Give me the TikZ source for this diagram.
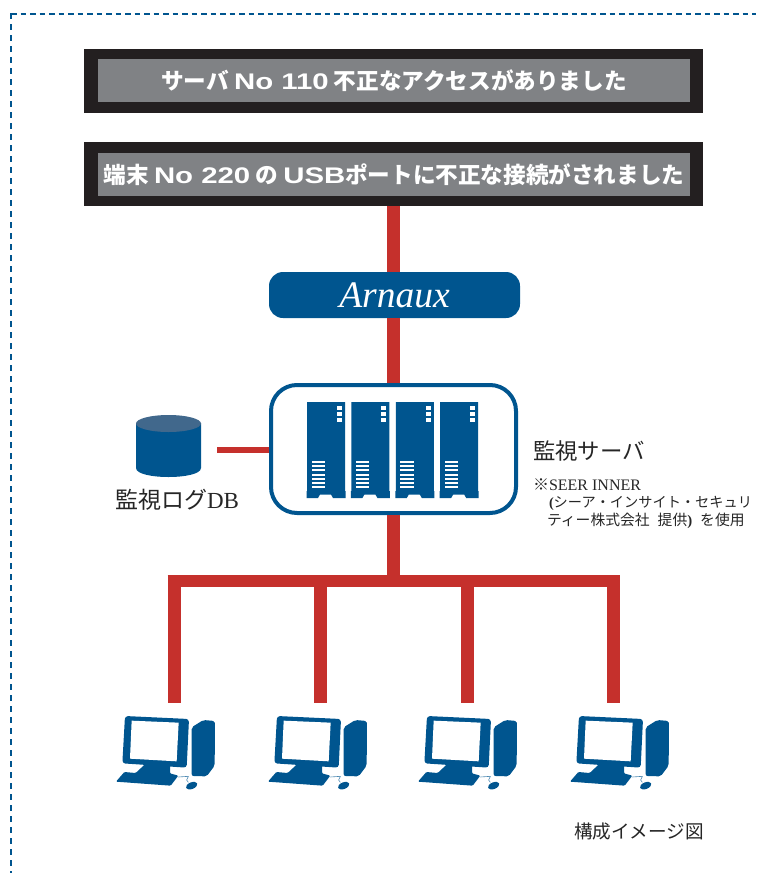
\documentclass[tikz,border=0pt]{standalone}
\usepackage{fontspec}
\setmainfont{Liberation Serif}
\newfontfamily\cjk{Noto Sans CJK JP}
\newfontfamily\lat{Liberation Serif}
\newfontfamily\bansans[FakeStretch=1.3]{Liberation Sans}
\definecolor{navy}{HTML}{00558F}
\definecolor{dbtop}{HTML}{41688C}
\definecolor{wire}{HTML}{C5302C}
\definecolor{banblack}{HTML}{231F20}
\definecolor{bangrey}{HTML}{808285}
\tikzset{
  bannerouter/.style={fill=banblack,draw=none,minimum width=619pt,minimum height=64pt,inner sep=0pt,outer sep=0pt},
  bannerinner/.style={fill=bangrey,draw=none,minimum width=592pt,minimum height=43pt,inner sep=0pt,outer sep=0pt,text=white,font=\fontsize{22.6}{25}\selectfont},
  wirethick/.style={draw=wire,line width=13pt},
  wirethin/.style={draw=wire,line width=5.5pt},
  buswire/.style={draw=wire,line width=12pt},
  lbl/.style={inner sep=0pt,outer sep=0pt,text=black!85},
  pcslot/.style={minimum width=100pt,minimum height=90pt,inner sep=0pt,outer sep=0pt},
  pcicon/.pic={
    \begin{scope}[scale=1/3]
      \fill[navy,rounded corners=3pt] (75,48)--(267,57)--(260,203)--(67,190)--cycle;
      \fill[white] (95,62)--(236,68)--(230,184)--(90,176)--cycle;
      \fill[navy,rounded corners=1pt] (138,190)--(210,190)--(210,220)--(235,227)--(212,257)--(48,245)--(73,216)--(107,219)--cycle;
      \fill[navy,rounded corners=2pt] (275,82)--(310,60)--(345,63)--(344,197)--(320,229)--(275,228)--cycle;
      \fill[navy,rotate around={22:(275,257)}] (275,257) ellipse (18 and 10);
      \draw[navy!70,line width=.6pt] (235,231)--(265,229)--(260,240)--(265,247);
    \end{scope}
  },
  srvicon/.pic={
    \fill[navy] (0,0)--(38,0)--(38,89)--(38.5,89)--(38.5,96)--(26,96)--(24,92.5)--(13,92.5)--(11,96)--(-.5,96)--(-.5,89)--(0,89)--cycle;
    \foreach \q in {4,10,16}{\fill[white] (30,\q) rectangle (35,\q+4);}
    \foreach \q in {0,...,6}{\fill[white] (4.5,59+\q*4.2) rectangle (18,61+\q*4.2);}
  }
}
\newcommand{\bl}[1]{{\bansans\bfseries #1}}
\begin{document}
\begin{tikzpicture}[x=1pt,y=-1pt]
\useasboundingbox (0,0) rectangle (756,873);
\draw[navy,line width=2pt,dash pattern=on 5.5pt off 4pt] (11,14) -- (756,14);
\draw[navy,line width=2pt,dash pattern=on 6pt off 5pt] (11,13) -- (11,873);

% nodes
\node[bannerouter] (ban1) at (393.5,80.5) {};
\node[bannerinner] (ban1in) at (394,80.5) {\raisebox{-1pt}{\cjk\bfseries サーバ \bl{No 110} 不正なアクセスがありました}};
\node[bannerouter] (ban2) at (393.5,174) {};
\node[bannerinner] (ban2in) at (394,174.5) {\raisebox{-1pt}{\cjk\bfseries 端末 \bl{No 220} の \bl{USB}ポートに不正な接続がされました}};

\node[fill=navy,rounded corners=14pt,minimum width=251pt,minimum height=46pt,inner sep=0pt,outer sep=0pt,text=white,font=\lat\itshape\fontsize{37.5}{40}\selectfont] (arnaux) at (394.5,295) {Arnaux};

\node[draw=navy,line width=4pt,fill=white,rounded corners=26pt,minimum width=245pt,minimum height=128pt,inner sep=0pt,outer sep=2pt] (srv) at (393.5,449) {};

\node[minimum width=65pt,minimum height=62pt,inner sep=0pt,outer sep=0pt] (db) at (168.5,446) {};
\coordinate (dbport) at (217,450);

\node[pcslot] (pc1) at (174,748) {};
\node[pcslot] (pc2) at (320,748) {};
\node[pcslot] (pc3) at (467,748) {};
\node[pcslot] (pc4) at (613,748) {};
\coordinate (bustap) at (393.5,581);
\coordinate (bus1) at (174,581);
\coordinate (bus2) at (320,581);
\coordinate (bus3) at (467,581);
\coordinate (bus4) at (613,581);

% connectors
\draw[wirethick] (ban2.south) -- (ban2.south |- arnaux.north);
\draw[wirethick] (srv.north |- arnaux.south) -- (srv.north);
\draw[wirethick] (srv.south) -- (bustap);
\draw[buswire] ([xshift=-6.5pt]bus1) -- ([xshift=6.5pt]bus4);
\draw[wirethick] (bus1) -- (pc1.north);
\draw[wirethick] (bus2) -- (pc2.north);
\draw[wirethick] (bus3) -- (pc3.north);
\draw[wirethick] (bus4) -- (pc4.north);
\draw[wirethin] (dbport) -- (srv.west |- dbport);

% db cylinder
\fill[navy] (136,423) -- (136,468) .. controls (136,480) and (201,480) .. (201,468) -- (201,423) -- cycle;
\fill[dbtop] (168.5,423.5) ellipse (32.5 and 8.5);

% servers
\foreach \sx in {307,351.4,395.8,440.2}{\pic at (\sx,402) {srvicon};}

% PCs
\pic at (100,700) {pcicon};
\pic at (252,700) {pcicon};
\pic at (402,700) {pcicon};
\pic at (554,700) {pcicon};

% labels
\node[lbl,font=\fontsize{23}{25}\selectfont] (dblabel) at (177,500) {{\cjk 監視ログ}DB};
\node[lbl,anchor=west,font=\fontsize{22.4}{24}\selectfont] (srvlabel) at (533,451) {\cjk 監視サーバ};
\node[lbl,anchor=west,font=\fontsize{16}{18}\selectfont] (note1) at (533,485) {{\cjk ※}SEER INNER};
\node[lbl,anchor=west,font=\fontsize{14.2}{16}\selectfont] (note2) at (549,503) {\textbf{(}{\cjk シーア・インサイト・セキュリ}};
\node[lbl,anchor=west,font=\fontsize{14.8}{16}\selectfont] (note3) at (547,521) {{\cjk ティー株式会社\hspace{8pt}提供}\textbf{)}\hspace{8pt}{\cjk を使用}};
\node[lbl,anchor=west,font=\fontsize{18.6}{20}\selectfont] (cap) at (574,831) {\cjk 構成イメージ図};
\end{tikzpicture}
\end{document}
